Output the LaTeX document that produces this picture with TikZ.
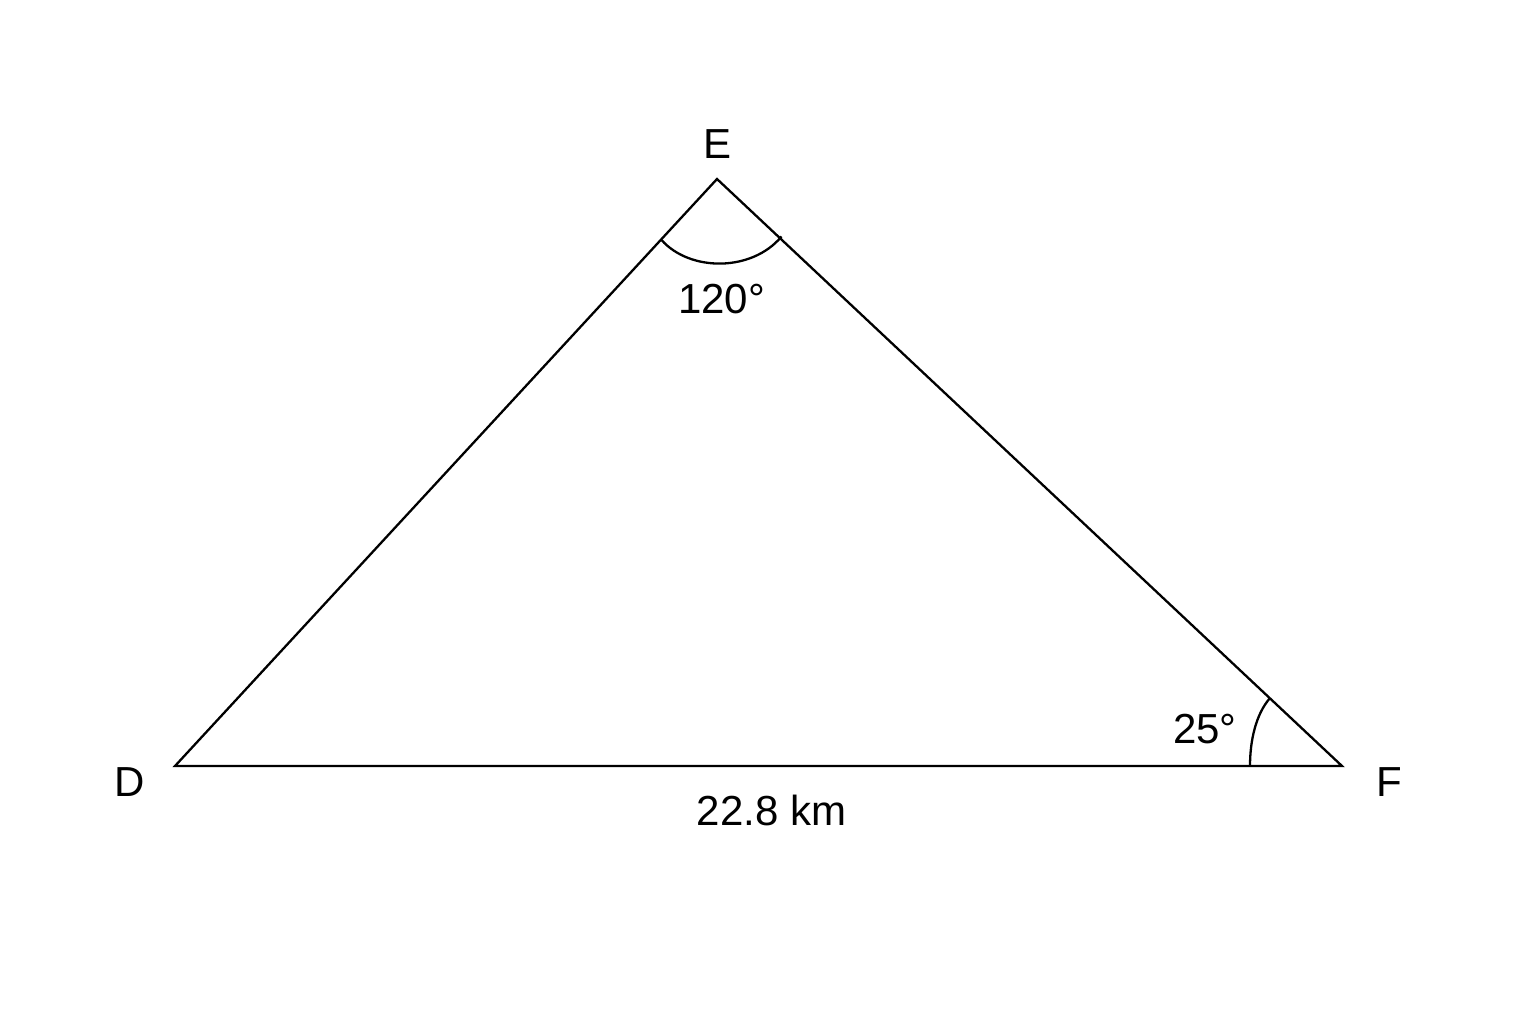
\documentclass[tikz,border=0pt]{standalone}
\usepackage{fontspec}
\setmainfont{Liberation Sans}
\begin{document}
\begin{tikzpicture}[x=0.5pt,y=-0.5pt,
  lbl/.style={anchor=base,inner sep=0pt,font=\fontsize{21}{25}\selectfont},
  edge/.style={line width=1.15pt,line join=miter},
  anglearc/.style={line width=1.15pt}]
\useasboundingbox (0,0) rectangle (1536,1024);
\fill[white] (0,0) rectangle (1536,1024);
\coordinate (D) at (175,766);
\coordinate (E) at (717,179);
\coordinate (F) at (1342,766);
\draw[edge] (D) -- (E) -- (F) -- cycle;
% angle arc at E
\draw[anglearc] (661.5,240) .. controls (690,272) and (752,272) .. (781.5,236.5);
% angle arc at F
\draw[anglearc] (1250,766) .. controls (1250,740) and (1256,714) .. (1270,698);
\node[lbl] (lE) at (717,158) {E};
\node[lbl] (lD) at (130,796) {D};
\node[lbl] (lF) at (1389,796) {F};
\node[lbl] (a120) at (721.5,313) {120°};
\node[lbl] (a25) at (1205,743) {25°};
\node[lbl] (len) at (771.5,825) {22.8 km};
\end{tikzpicture}
\end{document}
